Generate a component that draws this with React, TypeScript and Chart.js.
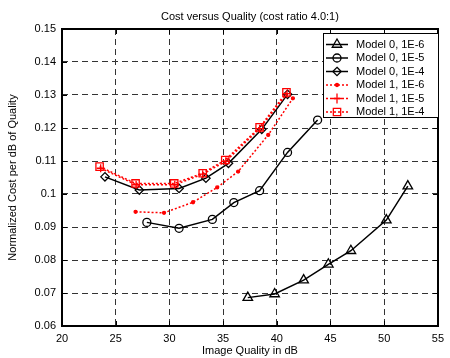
import React, { useEffect, useRef } from 'react';
import { Chart, registerables } from 'chart.js';
Chart.register(...registerables);

const chartTitle = 'Cost versus Quality (cost ratio 4.0:1)';
const xTitle = 'Image Quality in dB';
const yTitle = 'Normalized Cost per dB of Quality';

const seriesNames = ['Model 0, 1E-6', 'Model 0, 1E-5', 'Model 0, 1E-4', 'Model 1, 1E-6', 'Model 1, 1E-5', 'Model 1, 1E-4'];

const xM0e6 = [37.3, 39.8, 42.5, 44.8, 46.9, 50.2, 52.2];
const yM0e6 = [0.0686, 0.0697, 0.0739, 0.0787, 0.0828, 0.0921, 0.1024];
const xM0e5 = [27.9, 30.9, 34.0, 36.0, 38.4, 41.0, 43.8];
const yM0e5 = [0.0914, 0.0896, 0.0923, 0.0974, 0.1010, 0.1126, 0.1224];
const xM0e4 = [24.0, 27.2, 30.9, 33.4, 35.5, 38.6, 41.0];
const yM0e4 = [0.1052, 0.1012, 0.1017, 0.1048, 0.1093, 0.1196, 0.1302];
const xM1e6 = [26.85, 29.5, 32.2, 34.45, 36.4, 39.2, 41.5];
const yM1e6 = [0.0946, 0.0943, 0.0975, 0.1020, 0.1068, 0.1179, 0.1290];
const xM1e5 = [23.6, 26.9, 30.5, 33.1, 35.25, 38.4, 40.95];
const yM1e5 = [0.1078, 0.1028, 0.1028, 0.1060, 0.1099, 0.1198, 0.1304];
const xM1e4 = [23.5, 26.85, 30.45, 33.1, 35.2, 38.4, 40.9];
const yM1e4 = [0.1083, 0.1032, 0.1032, 0.1063, 0.1103, 0.1202, 0.1308];

const xTicks = [20, 25, 30, 35, 40, 45, 50, 55];
const yTicks = [0.06, 0.07, 0.08, 0.09, 0.1, 0.11, 0.12, 0.13, 0.14, 0.15];

const FONT = '"Liberation Sans", Arial, Helvetica, sans-serif';

type Style = { color: string; dash: number[]; marker: string; r: number; fill: boolean };
const styles: Style[] = [
  { color: '#000000', dash: [], marker: 'triangle', r: 5.5, fill: false },
  { color: '#000000', dash: [], marker: 'circle', r: 4, fill: false },
  { color: '#000000', dash: [], marker: 'rectRot', r: 4.2, fill: false },
  { color: '#ff0000', dash: [2, 2], marker: 'circle', r: 1.5, fill: true },
  { color: '#ff0000', dash: [2, 2], marker: 'cross', r: 4, fill: false },
  { color: '#ff0000', dash: [2, 2], marker: 'rect', r: 5.2, fill: false },
];

const xs = [xM0e6, xM0e5, xM0e4, xM1e6, xM1e5, xM1e4];
const ys = [yM0e6, yM0e5, yM0e4, yM1e6, yM1e5, yM1e4];

function drawMarker(ctx: CanvasRenderingContext2D, s: Style, x: number, y: number, r: number) {
  ctx.save();
  ctx.setLineDash([]);
  ctx.strokeStyle = s.color;
  ctx.fillStyle = s.color;
  ctx.lineWidth = 1.3;
  ctx.beginPath();
  if (s.marker === 'triangle') {
    ctx.moveTo(x, y - r);
    ctx.lineTo(x + r * 0.866, y + r * 0.5);
    ctx.lineTo(x - r * 0.866, y + r * 0.5);
    ctx.closePath();
  } else if (s.marker === 'circle') {
    ctx.arc(x, y, r, 0, Math.PI * 2);
  } else if (s.marker === 'rectRot') {
    ctx.moveTo(x, y - r);
    ctx.lineTo(x + r, y);
    ctx.lineTo(x, y + r);
    ctx.lineTo(x - r, y);
    ctx.closePath();
  } else if (s.marker === 'cross') {
    ctx.moveTo(x - r, y);
    ctx.lineTo(x + r, y);
    ctx.moveTo(x, y - r);
    ctx.lineTo(x, y + r);
  } else if (s.marker === 'rect') {
    const h = r * 0.707;
    ctx.rect(x - h, y - h, 2 * h, 2 * h);
  }
  if (s.fill) ctx.fill();
  ctx.stroke();
  ctx.restore();
}

const chromePlugin = {
  id: 'chrome',
  afterDraw(chart: any) {
    const ctx: CanvasRenderingContext2D = chart.ctx;
    const a = chart.chartArea;
    const xs_ = chart.scales.x;
    const ys_ = chart.scales.y;
    ctx.save();
    ctx.setLineDash([]);
    ctx.strokeStyle = '#000';
    ctx.lineWidth = 2;
    const L = Math.round(a.left), R = Math.round(a.right);
    const T = Math.round(a.top), B = Math.round(a.bottom);
    ctx.strokeRect(L, T, R - L, B - T);
    ctx.lineWidth = 1;
    ctx.beginPath();
    for (const v of xTicks) {
      const px = Math.round(xs_.getPixelForValue(v)) + 0.5;
      ctx.moveTo(px, B); ctx.lineTo(px, B - 5);
      ctx.moveTo(px, T); ctx.lineTo(px, T + 5);
    }
    for (const v of yTicks) {
      const py = Math.round(ys_.getPixelForValue(v)) + 0.5;
      ctx.moveTo(L, py); ctx.lineTo(L + 5, py);
      ctx.moveTo(R, py); ctx.lineTo(R - 5, py);
    }
    ctx.stroke();

    // titles
    ctx.fillStyle = '#000';
    ctx.font = '11px ' + FONT;
    ctx.textAlign = 'center';
    ctx.textBaseline = 'middle';
    ctx.fillText(chartTitle, (a.left + a.right) / 2, 17);
    ctx.fillText(xTitle, (a.left + a.right) / 2, 351);
    ctx.save();
    ctx.translate(13, (a.top + a.bottom) / 2);
    ctx.rotate(-Math.PI / 2);
    ctx.fillText(yTitle, 0, 0);
    ctx.restore();

    // legend
    const bx = 323.5, by = 33.5, bw = 115, bh = 84;
    ctx.fillStyle = '#fff';
    ctx.fillRect(bx, by, bw, bh);
    ctx.strokeStyle = '#000';
    ctx.lineWidth = 1;
    ctx.strokeRect(bx, by, bw, bh);
    ctx.textAlign = 'left';
    for (let i = 0; i < seriesNames.length; i++) {
      const s = styles[i];
      const ry = 44.5 + i * 13.5;
      ctx.save();
      ctx.strokeStyle = s.color;
      ctx.lineWidth = 1.5;
      ctx.setLineDash(s.dash);
      ctx.beginPath();
      ctx.moveTo(326, ry);
      ctx.lineTo(348, ry);
      ctx.stroke();
      ctx.restore();
      drawMarker(ctx, s, 337, ry, i === 4 ? 5 : s.r);
      ctx.fillStyle = '#000';
      ctx.fillText(seriesNames[i], 356, ry);
    }
    ctx.restore();
  },
};

export default function App() {
  const ref = useRef<HTMLCanvasElement>(null);
  useEffect(() => {
    if (!ref.current) return;
    const datasets = seriesNames.map((name, i) => {
      const s = styles[i];
      return {
        label: name,
        data: xs[i].map((x, j) => ({ x, y: ys[i][j] })),
        borderColor: s.color,
        backgroundColor: s.color,
        borderWidth: 1.5,
        borderDash: s.dash,
        pointStyle: s.marker,
        pointRadius: s.r,
        pointBorderWidth: 1.3,
        pointBorderColor: s.color,
        pointBackgroundColor: s.fill ? s.color : 'rgba(0,0,0,0)',
        tension: 0,
        fill: false,
        order: 6 - i,
      };
    });
    const chart = new Chart(ref.current, {
      type: 'line',
      data: { datasets },
      options: {
        animation: false,
        responsive: false,
        layout: { padding: { top: 29, right: 9, left: 0, bottom: 0 } },
        plugins: { legend: { display: false }, title: { display: false }, tooltip: { enabled: false } },
        scales: {
          x: {
            type: 'linear',
            min: 20,
            max: 55,
            afterBuildTicks: (s: any) => { s.ticks = xTicks.map((v) => ({ value: v })); },
            afterFit: (s: any) => { s.height = 32; },
            ticks: { color: '#000', font: { family: FONT, size: 11 }, padding: 6, maxRotation: 0, autoSkip: false },
            grid: { color: '#333', lineWidth: 1, drawTicks: false },
            border: { display: false, dash: [6, 4] },
          },
          y: {
            type: 'linear',
            min: 0.06,
            max: 0.15,
            afterBuildTicks: (s: any) => { s.ticks = yTicks.map((v) => ({ value: v })); },
            afterFit: (s: any) => { s.width = 62; },
            ticks: {
              color: '#000',
              font: { family: FONT, size: 11 },
              padding: 6,
              autoSkip: false,
              callback: (v: any) => String(Number(Number(v).toFixed(2))),
            },
            grid: { color: '#333', lineWidth: 1, drawTicks: false },
            border: { display: false, dash: [6, 4] },
          },
        },
      },
      plugins: [chromePlugin],
    } as any);
    return () => chart.destroy();
  }, []);
  return (
    <div style={{ position: 'absolute', left: 0, top: 0, width: 450, height: 358, background: '#fff' }}>
      <canvas ref={ref} width={450} height={358} style={{ display: 'block', width: 450, height: 358 }} />
    </div>
  );
}
